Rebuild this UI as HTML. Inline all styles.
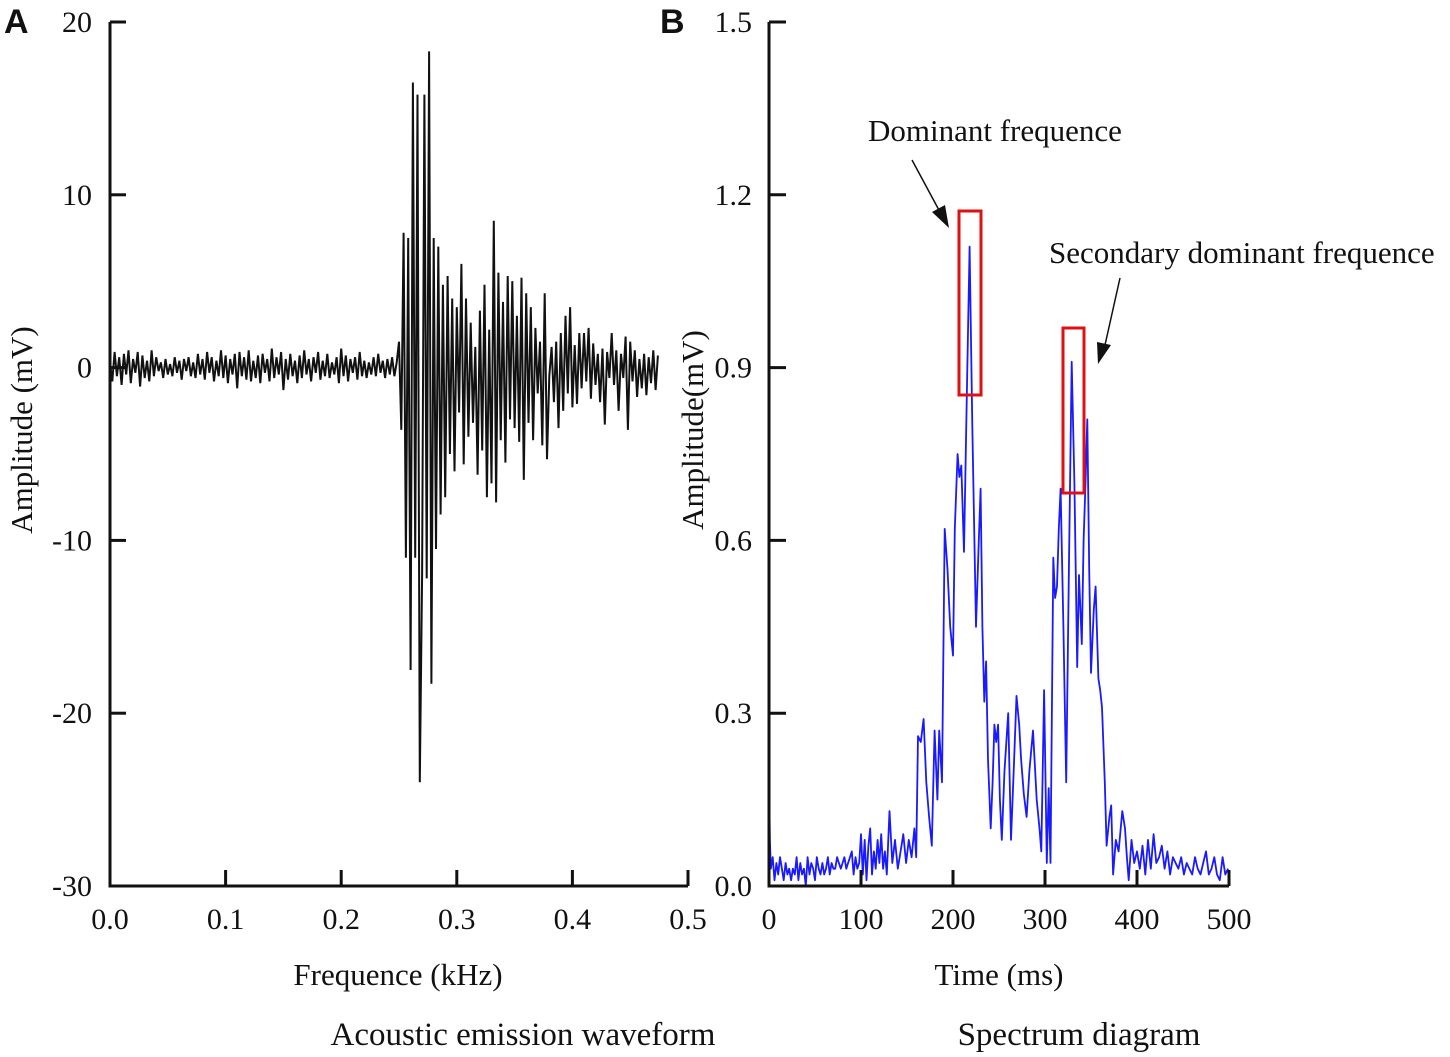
<!DOCTYPE html>
<html><head><meta charset="utf-8"><style>
html,body{margin:0;padding:0;background:#fff;width:1450px;height:1057px;overflow:hidden}
svg text{font-family:"Liberation Serif",serif;fill:#111}
.lbl{font-family:"Liberation Sans",sans-serif;font-weight:bold}
</style></head><body>
<svg id="chart" width="1450" height="1057" viewBox="0 0 1450 1057">
<text class="lbl" x="4" y="33" font-size="34">A</text>
<text class="lbl" x="660" y="33" font-size="34">B</text>
<g id="pa"></g>
<g id="pb"></g>
<text x="523" y="1045" font-size="33" text-anchor="middle">Acoustic emission waveform</text>
<text x="1079" y="1045" font-size="33" text-anchor="middle">Spectrum diagram</text>
</svg>
<script>
// ---- Panel A data ----
const waveStep = 0.002;
const waveNoise = [0.3,-0.8,0.9,-0.5,0.6,-1.0,0.8,-0.4,1.0,-0.9,0.5,-0.3,0.9,-1.1,0.7,-0.6,0.4,-0.8,1.0,-0.5,0.6,-0.2,0.3,-0.6,0.5,-0.4,0.2,-0.5,0.6,-0.3,0.4,-0.7,0.5,-0.2,0.6,-0.5,0.3,-0.6,0.8,-0.4,0.5,-0.7,0.9,-0.3,0.6,-0.8,0.4,-0.5,1.0,-0.6,0.7,-0.9,0.5,-0.4,0.8,-1.2,0.9,-0.5,0.6,-0.7,1.0,-0.8,0.4,-0.6,0.7,-0.9,0.8,-0.3,0.5,-0.8,1.1,-0.6,0.6,-0.4,0.9,-1.3,0.5,-0.7,0.8,-0.5,0.4,-0.9,0.7,-0.6,1.0,-0.4,0.5,-0.8,0.6,-0.3,0.9,-0.7,0.4,-0.5,0.8,-0.6,0.3,-0.4,0.6,-0.9,1.1,-0.5,0.7,-0.8,0.5,-0.3,0.6,-0.7,0.9,-0.5,0.4,-0.6,0.3,-0.4,0.6,-0.5,0.8,-0.3,0.4,-0.6,0.5,-0.4,0.6,-0.5,0.3];
const waveBurst = [1.5,-3.6,7.8,-11,7.5,-17.5,16.5,-11,15.8,-24,-12,15.8,-12.2,18.3,-18.3,7.5,-10.5,7.0,-8.5,4.8,-7.5,5.3,-5.0,4.0,-6.0,3.5,-2.6,6.0,-5.6,4.0,-4.0,2.6,-3.2,1.2,-6.2,3.3,-4.8,4.8,-7.5,2.2,-6.7,8.5,-7.8,5.5,-4.2,3.8,-5.5,5.3,-3.0,5.0,-3.5,3.0,-4.3,5.2,-6.5,4.3,-3.2,3.5,-4.2,2.3,-1.5,1.5,-4.5,4.3,-5.3,-0.5,1.2,-2.0,1.5,-3.5,2.0,-2.5,3.0,-1.5,3.5,-2.3,1.3,-2.1,2.0,-1.2,2.0,-0.8,2.3,-1.8,1.4,-1.0,0.8,-2.0,1.1,-3.3,0.9,-0.6,2.0,-1.0,1.0,-2.5,0.8,-0.6,1.8,-3.6,1.5,-0.8,1.0,-1.7,0.5,-1.2,0.8,-1.6,0.6,-0.9,1.0,-1.3,0.7];
const waveTicksX = [0.0,0.1,0.2,0.3,0.4,0.5];
const waveTicksY = [20,10,0,-10,-20,-30];
// ---- Panel B data ----
const specX = [
0,1,2,4,6,8,10,12,14,16,
18,20,22,24,26,28,30,32,34,36,
38,40,42,44,46,48,50,52,54,56,
58,60,62,64,66,68,70,72,74,76,
78,80,82,84,86,88,90,92,94,96,
98,100,102,104,106,108,110,112,114,116,
118,120,122,124,126,128,131,134,137,140,
143,146,149,152,155,158,160,162,165,168,
171,174,177,180,183,185,188,191,194,197,
200,202,205,207,209,212,215,218,221,225,
228,230,232,234,236,238,241,243,245,247,
249,251,253,256,260,263,266,269,272,274,
277,280,283,287,291,294,296,299,302,304,
306,309,311,313,315,317,320,323,326,329,
332,335,337,340,342,344,346,348,350,353,
355,358,360,362,365,367,370,372,374,377,
380,384,387,389,391,394,397,400,403,406,
409,412,415,418,421,424,427,430,433,436,
439,442,445,448,451,454,457,460,463,466,
469,472,475,478,481,484,487,490,493,496,
499];
const specY = [
0.20,0.08,0.03,0.05,0.01,0.04,0.02,0.05,0.03,0.01,
0.04,0.02,0.03,0.01,0.03,0.02,0.05,0.01,0.04,0.02,
0.03,0.00,0.05,0.02,0.04,0.03,0.01,0.05,0.03,0.02,
0.04,0.02,0.03,0.05,0.02,0.04,0.03,0.03,0.05,0.04,
0.03,0.04,0.05,0.03,0.04,0.05,0.06,0.02,0.05,0.03,
0.04,0.09,0.02,0.08,0.01,0.07,0.10,0.02,0.06,0.03,
0.08,0.04,0.09,0.03,0.06,0.02,0.13,0.04,0.08,0.03,
0.06,0.09,0.04,0.08,0.05,0.10,0.05,0.26,0.25,0.29,
0.18,0.12,0.07,0.27,0.15,0.27,0.18,0.62,0.55,0.45,
0.40,0.62,0.75,0.71,0.73,0.58,0.85,1.11,0.80,0.45,
0.60,0.69,0.45,0.32,0.39,0.22,0.10,0.18,0.28,0.25,
0.28,0.15,0.08,0.20,0.30,0.08,0.20,0.33,0.28,0.22,
0.16,0.12,0.20,0.27,0.15,0.10,0.06,0.34,0.04,0.17,
0.04,0.57,0.50,0.52,0.62,0.69,0.45,0.18,0.55,0.91,
0.70,0.38,0.54,0.42,0.60,0.70,0.81,0.55,0.37,0.48,
0.52,0.36,0.34,0.31,0.18,0.07,0.12,0.14,0.02,0.08,
0.06,0.13,0.10,0.05,0.01,0.08,0.04,0.06,0.03,0.07,
0.02,0.08,0.03,0.09,0.04,0.05,0.07,0.03,0.06,0.02,
0.05,0.04,0.03,0.05,0.02,0.04,0.03,0.02,0.05,0.03,
0.02,0.04,0.06,0.02,0.03,0.05,0.02,0.01,0.05,0.02,
0.03];
const specTicksX = [0,100,200,300,400,500];
const specTicksY = [0.0,0.3,0.6,0.9,1.2,1.5];

const NS='http://www.w3.org/2000/svg';
function mk(parent,tag,attrs,text){const e=document.createElementNS(NS,tag);for(const k in attrs)e.setAttribute(k,attrs[k]);if(text!==undefined)e.textContent=text;parent.appendChild(e);return e;}

const ax = v => 110 + v/0.5*578;
const ay = v => 886 - (v+30)/50*864;
const pa=document.getElementById('pa');
let wave=waveNoise.concat(waveBurst);
let d='';
wave.forEach((v,i)=>{d+=(i?'L':'M')+ax(i*waveStep).toFixed(1)+','+ay(v).toFixed(1);});
let wl=mk(pa,'path',{d:d,fill:'none',stroke:'#111','stroke-width':2});


let axA=mk(pa,'path',{d:'M110,22 L110,886 L688,886',fill:'none',stroke:'#111','stroke-width':3});


waveTicksX.forEach(t=>{
  mk(pa,'line',{x1:ax(t),x2:ax(t),y1:886,y2:870,stroke:'#111','stroke-width':3});
  let tx=mk(pa,'text',{x:ax(t),y:929,'font-size':30,'text-anchor':'middle'},t.toFixed(1));
  
  
});
waveTicksY.forEach(t=>{
  mk(pa,'line',{x1:110,x2:126,y1:ay(t),y2:ay(t),stroke:'#111','stroke-width':3});
  let tx=mk(pa,'text',{x:92,y:ay(t)+10,'font-size':30,'text-anchor':'end'},String(t));
  
  
});
let xtA=mk(pa,'text',{x:398,y:985,'font-size':31,'text-anchor':'middle'},'Frequence (kHz)');


let ytA=mk(pa,'text',{x:0,y:0,'font-size':31,'text-anchor':'middle',transform:'translate(32,430) rotate(-90)'},'Amplitude (mV)');



const bx = v => 769 + v/500*460;
const by = v => 886 - v/1.5*864;
const pb=document.getElementById('pb');
d='';
specX.forEach((x,i)=>{d+=(i?'L':'M')+bx(x).toFixed(1)+','+by(specY[i]).toFixed(1);});
let sl=mk(pb,'path',{d:d,fill:'none',stroke:'#1a1aff','stroke-width':1.8,'stroke-linejoin':'round'});


let axB=mk(pb,'path',{d:'M769,22 L769,886 L1229,886',fill:'none',stroke:'#111','stroke-width':3});


specTicksX.forEach(t=>{
  mk(pb,'line',{x1:bx(t),x2:bx(t),y1:886,y2:870,stroke:'#111','stroke-width':3});
  let tx=mk(pb,'text',{x:bx(t),y:929,'font-size':30,'text-anchor':'middle'},String(t));
  
  
});
specTicksY.forEach(t=>{
  mk(pb,'line',{x1:769,x2:786,y1:by(t),y2:by(t),stroke:'#111','stroke-width':3});
  let tx=mk(pb,'text',{x:752,y:by(t)+10,'font-size':30,'text-anchor':'end'},t.toFixed(1));
  
  
});
let xtB=mk(pb,'text',{x:999,y:985,'font-size':31,'text-anchor':'middle'},'Time (ms)');


let ytB=mk(pb,'text',{x:0,y:0,'font-size':31,'text-anchor':'middle',transform:'translate(703,430) rotate(-90)'},'Amplitude(mV)');



let r1=mk(pb,'rect',{x:959,y:211,width:22,height:184,fill:'none',stroke:'#e01010','stroke-width':3});


let r2=mk(pb,'rect',{x:1063,y:328,width:21,height:165,fill:'none',stroke:'#e01010','stroke-width':3});


let t1=mk(pb,'text',{x:868,y:141,'font-size':31},'Dominant frequence');


let t2=mk(pb,'text',{x:1049,y:263,'font-size':31},'Secondary dominant frequence');


let a1=mk(pb,'line',{x1:912,y1:160,x2:940,y2:212,stroke:'#111','stroke-width':1.5});


mk(pb,'polygon',{points:'949,228 932,212 945,205',fill:'#111'});
let a2=mk(pb,'line',{x1:1120,y1:278,x2:1105,y2:345,stroke:'#111','stroke-width':1.5});


mk(pb,'polygon',{points:'1098,364 1097,342 1111,345',fill:'#111'});
</script>
</body></html>
